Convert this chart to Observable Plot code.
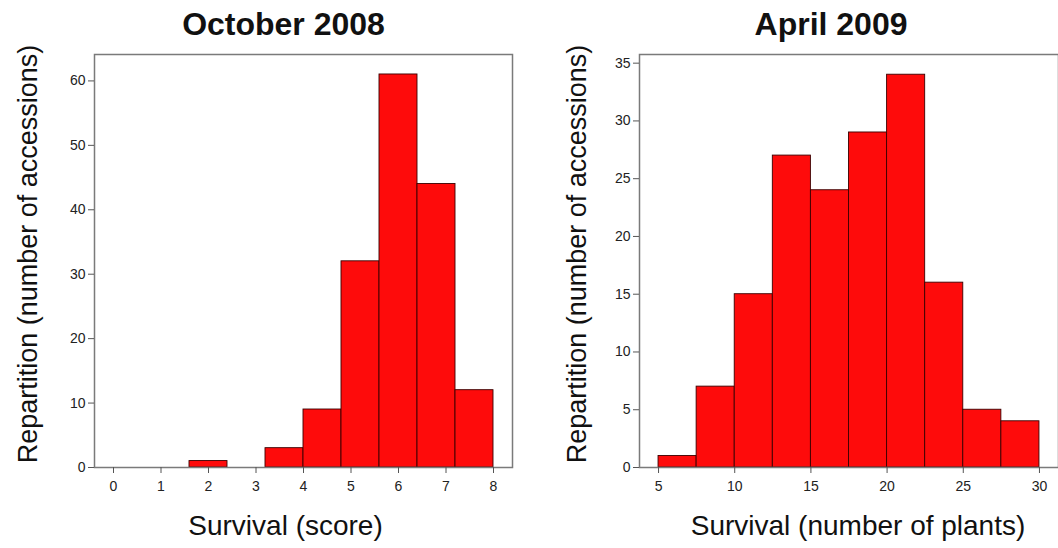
<!DOCTYPE html>
<html>
<head>
<meta charset="utf-8">
<script src="https://cdn.jsdelivr.net/npm/d3@7"></script>
<script src="https://cdn.jsdelivr.net/npm/@observablehq/plot@0.6"></script>
<style>
  html, body { margin: 0; padding: 0; background: #fff; }
  #wrap { display: flex; width: 1058px; height: 548px; overflow: hidden; }
  #wrap svg { overflow: visible; }
</style>
</head>
<body>
<div id="wrap"></div>
<script>
// ---- Data ----
const octTitle = "October 2008";
const octXLabel = "Survival (score)";
const octBinStart = [0, 0.8, 1.6, 2.4, 3.2, 4.0, 4.8, 5.6, 6.4, 7.2];
const octBinEnd   = [0.8, 1.6, 2.4, 3.2, 4.0, 4.8, 5.6, 6.4, 7.2, 8.0];
const octCounts   = [0, 0, 1, 0, 3, 9, 32, 61, 44, 12];
const octXTicks = [0, 1, 2, 3, 4, 5, 6, 7, 8];
const octYTicks = [0, 10, 20, 30, 40, 50, 60];

const aprTitle = "April 2009";
const aprXLabel = "Survival (number of plants)";
const aprBinStart = [5, 7.5, 10, 12.5, 15, 17.5, 20, 22.5, 25, 27.5];
const aprBinEnd   = [7.5, 10, 12.5, 15, 17.5, 20, 22.5, 25, 27.5, 30];
const aprCounts   = [1, 7, 15, 27, 24, 29, 34, 16, 5, 4];
const aprXTicks = [5, 10, 15, 20, 25, 30];
const aprYTicks = [0, 5, 10, 15, 20, 25, 30, 35];

const yLabel = "Repartition (number of accessions)";

const FONT = "'Liberation Sans', Arial, Helvetica, sans-serif";

function panel(opts) {
  const data = opts.starts.map((s, i) => ({x1: s, x2: opts.ends[i], count: opts.counts[i]}));
  return Plot.plot({
    width: 529,
    height: 548,
    marginLeft: opts.marginLeft,
    marginRight: opts.marginRight,
    marginTop: 54,
    marginBottom: 81,
    style: {fontFamily: FONT, fontSize: "14px", color: "#222", background: "#fff"},
    x: {domain: opts.xDomain},
    y: {domain: opts.yDomain},
    marks: [
      Plot.rectY(data, {
        filter: d => d.count > 0,
        x1: "x1", x2: "x2", y1: 0, y2: "count",
        fill: "#fe0b0b", stroke: "#3a0000", strokeWidth: 0.9
      }),
      Plot.frame({stroke: "#7a7a7a", strokeWidth: 1.5}),
      Plot.axisX({ticks: opts.xTicks, tickSize: 6, tickPadding: 8, fontSize: 14, label: null, stroke: "#555", fill: "#222"}),
      Plot.axisY({ticks: opts.yTicks, tickSize: 6, tickPadding: 3, fontSize: 14, label: null, stroke: "#555", fill: "#222"}),
      Plot.text([opts.title], {frameAnchor: "top", lineAnchor: "middle", textAnchor: "middle", dx: opts.titleDx, dy: -30, fontSize: 32, fontWeight: "bold", fill: "#111"}),
      Plot.text([opts.xLabel], {frameAnchor: "bottom", lineAnchor: "middle", textAnchor: "middle", dx: opts.xLabelDx, dy: 59, fontSize: 28, fill: "#111"}),
      Plot.text([yLabel], {frameAnchor: "left", lineAnchor: "middle", textAnchor: "middle", dx: opts.yLabelDx, dy: -7, rotate: -90, fontSize: 27, fill: "#111"})
    ]
  });
}

const wrap = document.getElementById("wrap");
wrap.appendChild(panel({
  starts: octBinStart, ends: octBinEnd, counts: octCounts,
  xDomain: [-0.4, 8.4], yDomain: [0, 64.1],
  xTicks: octXTicks, yTicks: octYTicks,
  marginLeft: 94, marginRight: 17,
  title: octTitle, titleDx: -20,
  xLabel: octXLabel, xLabelDx: -18,
  yLabelDx: -66
}));
wrap.appendChild(panel({
  starts: aprBinStart, ends: aprBinEnd, counts: aprCounts,
  xDomain: [3.75, 31.25], yDomain: [0, 35.75],
  xTicks: aprXTicks, yTicks: aprYTicks,
  marginLeft: 110, marginRight: 0,
  title: aprTitle, titleDx: -18,
  xLabel: aprXLabel, xLabelDx: 9,
  yLabelDx: -62
}));
</script>
</body>
</html>
